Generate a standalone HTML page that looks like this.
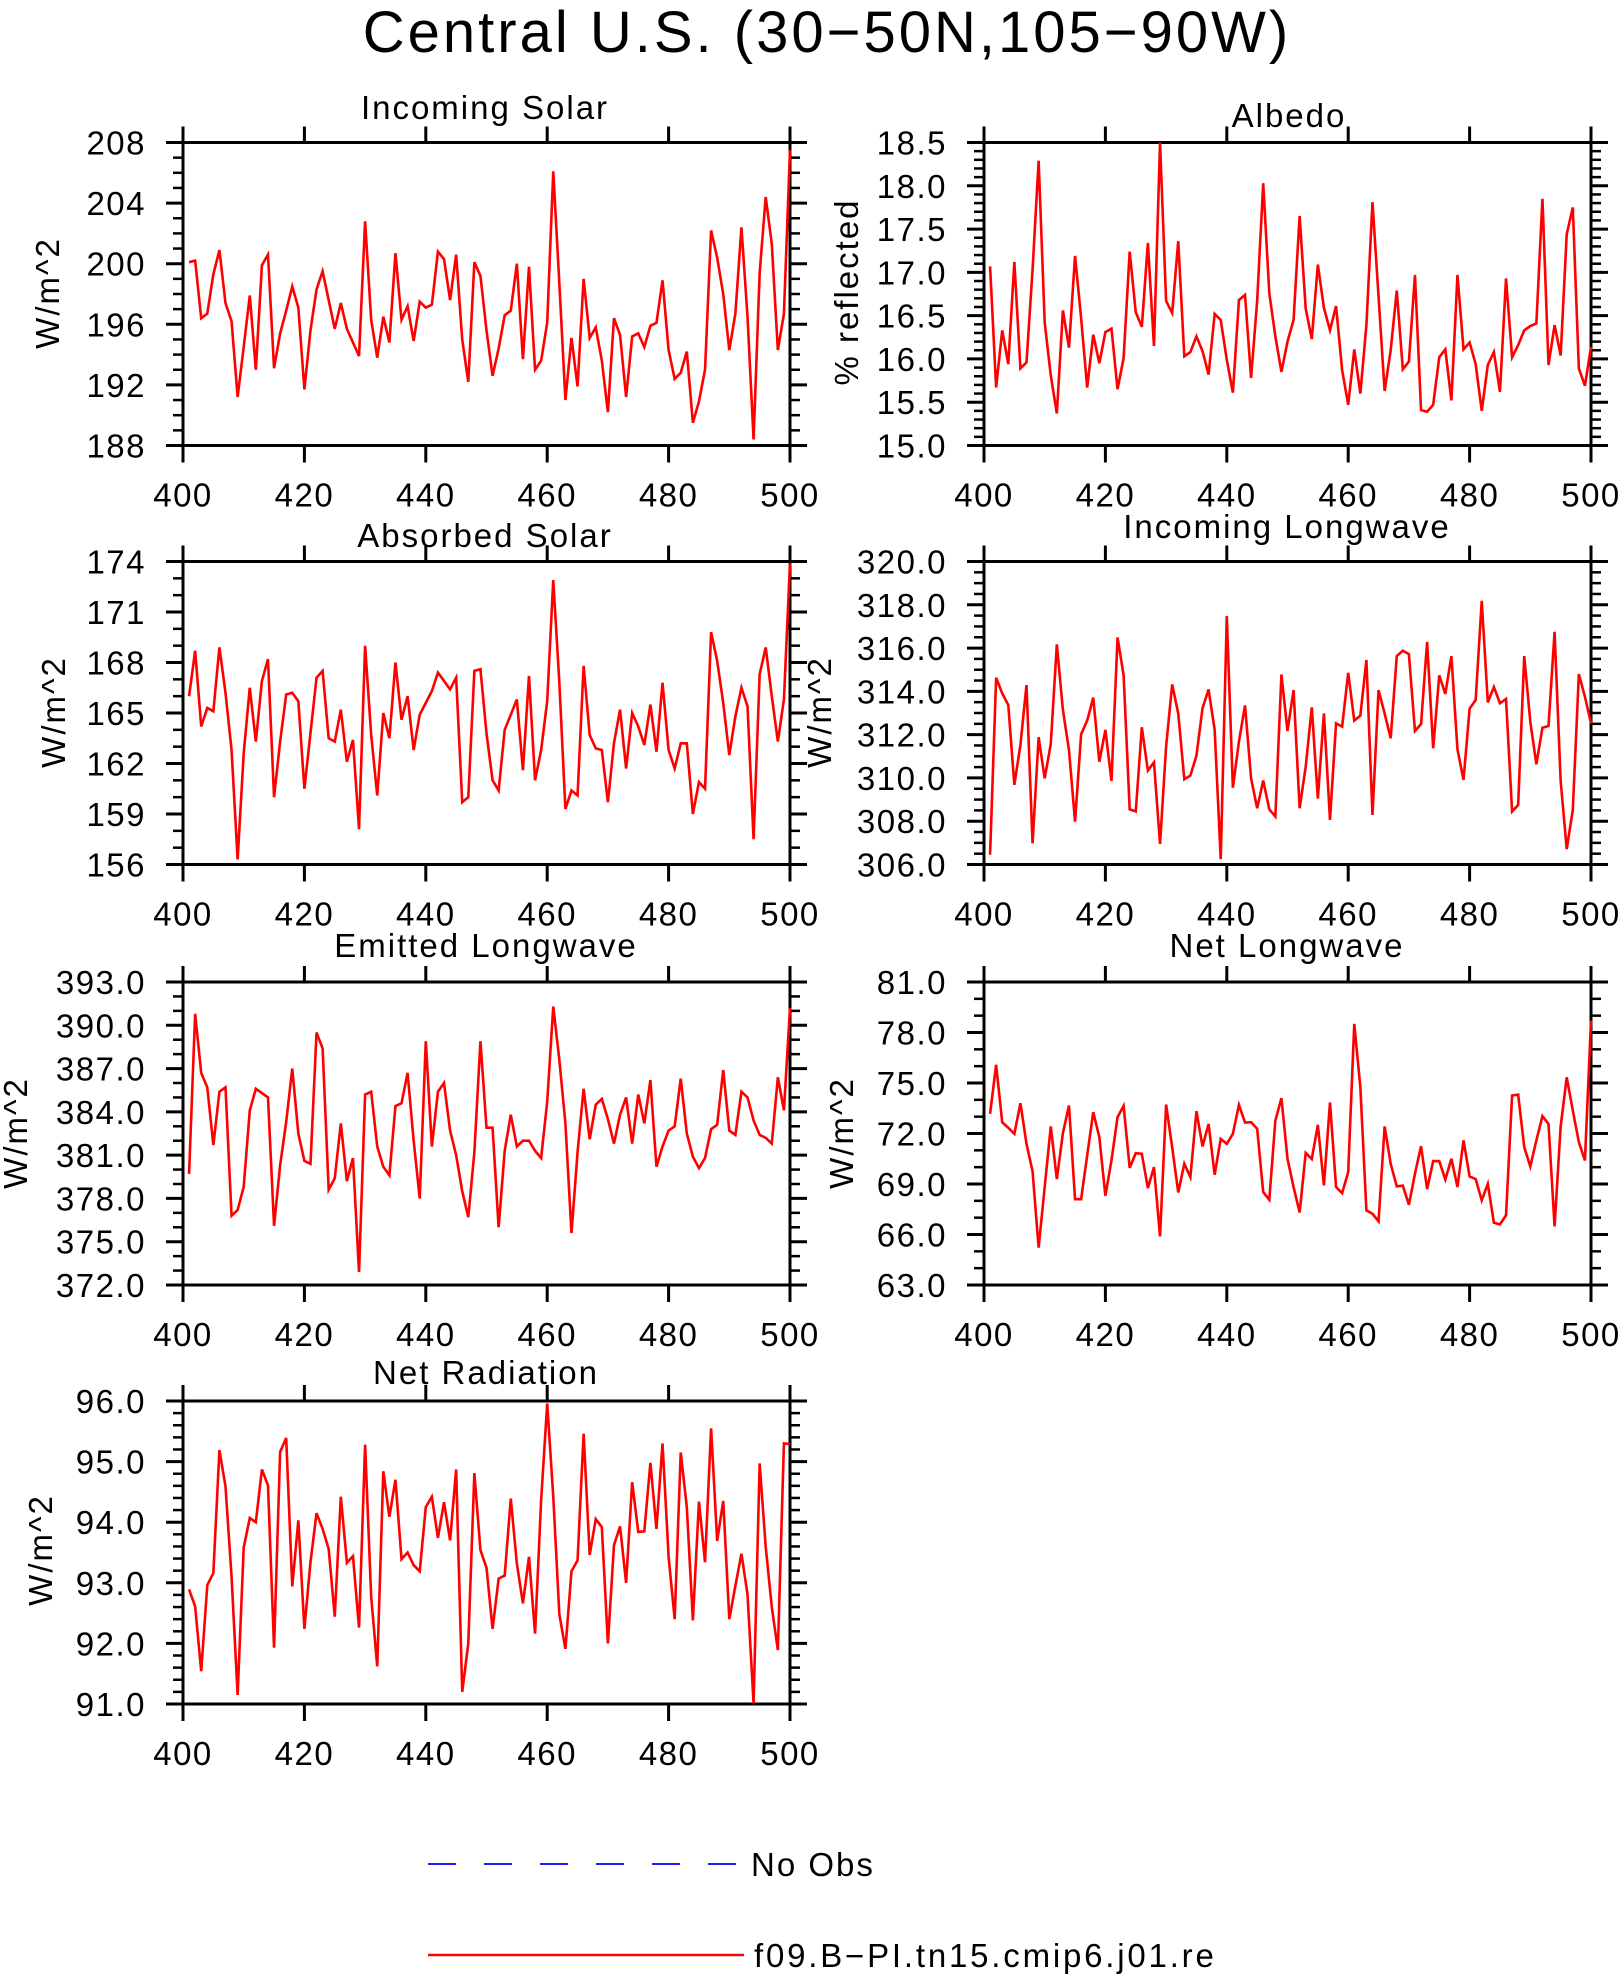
<!DOCTYPE html>
<html><head><meta charset="utf-8"><title>Central U.S.</title>
<style>
html,body{margin:0;padding:0;background:#fff;}
svg{display:block;font-family:"Liberation Sans",sans-serif;}
text{fill:#000;}
</style></head>
<body>
<svg id="chart" width="1621" height="1974" viewBox="0 0 1621 1974" xmlns="http://www.w3.org/2000/svg">
<rect x="0" y="0" width="1621" height="1974" fill="#fff"/>
<text x="827" y="52" text-anchor="middle" font-size="58" letter-spacing="3">Central U.S. (30−50N,105−90W)</text>
<g>
<line x1="428" y1="1864" x2="746" y2="1864" stroke="#2020ff" stroke-width="2" stroke-dasharray="28,28"/>
<text x="751" y="1876" font-size="33" letter-spacing="2">No Obs</text>
<line x1="428" y1="1955" x2="744" y2="1955" stroke="#ff0000" stroke-width="2.5"/>
<text x="754" y="1967" font-size="33" letter-spacing="2.8">f09.B−PI.tn15.cmip6.j01.re</text>
</g>
</svg>
<script>
const years = Array.from({length: 100}, (_, i) => 401 + i);
const xTicks = [400, 420, 440, 460, 480, 500];

const incomingSolar = [200.1,200.2,196.4,196.7,199.3,200.9,197.4,196.2,191.2,194.5,197.9,193.0,199.9,200.6,193.1,195.4,196.9,198.5,197.1,191.7,195.6,198.3,199.5,197.6,195.7,197.4,195.7,194.8,193.9,202.8,196.3,193.8,196.5,194.8,200.7,196.3,197.2,194.9,197.5,197.1,197.3,200.8,200.3,197.6,200.6,195.0,192.2,200.1,199.2,195.6,192.6,194.4,196.6,196.9,200.0,193.7,199.8,193.0,193.6,196.1,206.1,198.7,191.0,195.1,191.9,199.0,195.1,195.8,193.6,190.2,196.4,195.3,191.2,195.2,195.4,194.5,195.9,196.1,198.9,194.3,192.4,192.8,194.2,189.5,190.9,193.0,202.2,200.4,198.0,194.3,196.7,202.4,196.5,188.4,199.4,204.4,201.3,194.3,196.7,207.5];
const incomingSolarTicks = [188, 192, 196, 200, 204, 208];

const albedo = [17.07,15.67,16.33,15.94,17.12,15.89,15.96,17.03,18.29,16.42,15.81,15.37,16.56,16.13,17.19,16.47,15.67,16.28,15.95,16.31,16.35,15.65,16.01,17.24,16.54,16.37,17.34,16.15,18.5,16.67,16.53,17.36,16.03,16.08,16.26,16.09,15.82,16.52,16.45,15.99,15.61,16.68,16.74,15.78,16.67,18.03,16.76,16.26,15.85,16.20,16.45,17.65,16.58,16.23,17.09,16.59,16.33,16.61,15.87,15.47,16.11,15.60,16.39,17.81,16.72,15.63,16.10,16.79,15.88,15.97,16.97,15.41,15.39,15.47,16.02,16.11,15.52,16.97,16.11,16.19,15.94,15.40,15.93,16.08,15.62,16.93,16.02,16.16,16.33,16.38,16.41,17.85,15.93,16.39,16.04,17.44,17.75,15.89,15.69,16.14];
const albedoTicks = [15.0, 15.5, 16.0, 16.5, 17.0, 17.5, 18.0, 18.5];

const absorbedSolar = [166.0,168.7,164.2,165.3,165.1,168.9,166.2,162.8,156.3,162.6,166.5,163.3,166.9,168.2,160.0,163.3,166.1,166.2,165.7,160.5,163.8,167.1,167.5,163.5,163.3,165.2,162.1,163.4,158.1,169.0,163.7,160.1,165.0,163.5,168.0,164.6,166.0,162.8,164.9,165.6,166.3,167.4,166.9,166.4,167.1,159.7,160.0,167.5,167.6,163.8,161.0,160.4,164.0,164.9,165.8,161.6,167.2,161.0,162.8,165.7,172.9,166.8,159.3,160.4,160.1,167.8,163.7,162.9,162.8,159.7,163.2,165.2,161.7,165.0,164.2,163.1,165.5,162.7,166.8,162.8,161.7,163.2,163.2,159.0,160.9,160.5,169.8,168.1,165.6,162.5,164.8,166.5,165.4,157.5,167.3,168.9,166.0,163.3,165.8,173.9];
const absorbedSolarTicks = [156, 159, 162, 165, 168, 171, 174];

const incomingLW = [306.45,314.63,313.91,313.37,309.68,311.52,314.29,306.98,311.88,309.98,311.57,316.17,313.14,311.29,307.98,312.02,312.65,313.71,310.75,312.22,309.86,316.49,314.75,308.55,308.45,312.34,310.34,310.72,306.95,311.45,314.32,312.98,309.94,310.11,311.03,313.22,314.09,312.22,306.25,317.48,309.55,311.68,313.35,309.98,308.60,309.88,308.55,308.22,314.78,312.17,314.06,308.60,310.52,313.26,309.05,312.98,308.06,312.52,312.37,314.86,312.65,312.88,315.45,308.29,314.06,312.98,311.83,315.63,315.88,315.72,312.17,312.49,316.28,311.37,314.74,313.88,315.63,311.32,309.91,313.20,313.60,318.18,313.49,314.20,313.45,313.65,308.45,308.75,315.63,312.60,310.63,312.32,312.40,316.75,309.86,306.71,308.52,314.80,313.75,312.52];
const incomingLWTicks = [306.0, 308.0, 310.0, 312.0, 314.0, 316.0, 318.0, 320.0];

const emittedLW = [379.7,390.8,386.7,385.7,381.7,385.4,385.7,376.8,377.2,378.8,384.1,385.6,385.3,385.0,376.1,380.3,383.3,387.0,382.5,380.6,380.4,389.5,388.4,378.6,379.4,383.2,379.2,380.8,372.9,385.2,385.4,381.6,380.2,379.6,384.4,384.6,386.7,382.0,378.0,388.9,381.6,385.4,386.0,382.7,381.0,378.5,376.7,381.2,388.9,382.9,382.9,376.0,381.3,383.8,381.6,382.0,382.0,381.3,380.8,384.7,391.3,387.6,383.2,375.6,381.2,385.6,382.1,384.5,384.9,383.5,381.8,383.8,385.0,381.8,385.2,383.2,386.2,380.2,381.6,382.7,383.0,386.3,382.5,380.9,380.1,380.8,382.8,383.1,386.9,382.7,382.4,385.4,385.0,383.4,382.4,382.2,381.8,386.4,384.1,391.2];
const emittedLWTicks = [372.0, 375.0, 378.0, 381.0, 384.0, 387.0, 390.0, 393.0];

const netLW = [73.17,76.08,72.67,72.34,71.98,73.80,71.39,69.75,65.22,68.82,72.42,69.29,72.02,73.66,68.10,68.10,70.70,73.27,71.78,68.30,70.40,72.97,73.64,69.96,70.83,70.79,68.76,70.00,65.89,73.72,71.19,68.50,70.20,69.41,73.33,71.23,72.57,69.55,71.68,71.39,71.98,73.70,72.65,72.67,72.28,68.52,68.06,72.77,74.10,70.50,68.82,67.31,70.85,70.48,72.51,68.92,73.84,68.82,68.46,69.71,78.51,74.75,67.43,67.23,66.78,72.42,70.20,68.86,68.90,67.77,69.61,71.25,68.70,70.36,70.36,69.27,70.50,68.82,71.59,69.45,69.29,68.03,69.01,66.70,66.60,67.14,74.26,74.31,71.19,70.04,71.59,73.03,72.57,66.48,72.42,75.34,73.37,71.49,70.40,78.71];
const netLWTicks = [63.0, 66.0, 69.0, 72.0, 75.0, 78.0, 81.0];

const netRad = [92.89,92.61,91.54,92.96,93.16,95.19,94.59,93.10,91.15,93.58,94.07,94.00,94.87,94.61,91.93,95.16,95.39,92.94,94.03,92.24,93.34,94.15,93.89,93.56,92.44,94.42,93.33,93.44,92.26,95.28,92.77,91.62,94.84,94.09,94.70,93.39,93.50,93.29,93.19,94.25,94.42,93.74,94.33,93.70,94.87,91.20,92.00,94.81,93.54,93.25,92.24,93.07,93.12,94.39,93.32,92.66,93.43,92.16,94.36,95.96,94.42,92.48,91.91,93.19,93.37,95.46,93.46,94.05,93.92,92.00,93.62,93.93,93.00,94.66,93.84,93.85,94.98,93.89,95.30,93.43,92.40,95.15,94.25,92.38,94.34,93.34,95.55,93.69,94.35,92.40,92.95,93.48,92.81,91.01,94.97,93.59,92.60,91.89,95.30,95.29];
const netRadTicks = [91.0, 92.0, 93.0, 94.0, 95.0, 96.0];

const NS = 'http://www.w3.org/2000/svg';
const svg = document.getElementById('chart');

function mk(tag, attrs, parent) {
  const e = document.createElementNS(NS, tag);
  for (const k in attrs) e.setAttribute(k, attrs[k]);
  parent.appendChild(e);
  return e;
}

const panelDefs = [
  {key:'incoming-solar', title:'Incoming Solar', series:incomingSolar, ticks:incomingSolarTicks, dec:0, minor:4, x0:183, x1:790, y0:142.5, y1:445.5, tx:485, ty:119, ytitle:'W/m^2', ytx:47, yty:293},
  {key:'albedo', title:'Albedo', series:albedo, ticks:albedoTicks, dec:1, minor:5, x0:984, x1:1591, y0:142.5, y1:445.5, tx:1289, ty:127, ytitle:'% reflected', ytx:846, yty:292},
  {key:'absorbed-solar', title:'Absorbed Solar', series:absorbedSolar, ticks:absorbedSolarTicks, dec:0, minor:3, x0:183, x1:790, y0:561.5, y1:864.5, tx:485, ty:547, ytitle:'W/m^2', ytx:53, yty:712},
  {key:'incoming-longwave', title:'Incoming Longwave', series:incomingLW, ticks:incomingLWTicks, dec:1, minor:4, x0:984, x1:1591, y0:561.5, y1:864.5, tx:1287, ty:538, ytitle:'W/m^2', ytx:819, yty:712},
  {key:'emitted-longwave', title:'Emitted Longwave', series:emittedLW, ticks:emittedLWTicks, dec:1, minor:3, x0:183, x1:790, y0:982, y1:1285, tx:486, ty:957, ytitle:'W/m^2', ytx:15, yty:1133},
  {key:'net-longwave', title:'Net Longwave', series:netLW, ticks:netLWTicks, dec:1, minor:3, x0:984, x1:1591, y0:982, y1:1285, tx:1287, ty:957, ytitle:'W/m^2', ytx:841, yty:1133},
  {key:'net-radiation', title:'Net Radiation', series:netRad, ticks:netRadTicks, dec:1, minor:5, x0:183, x1:790, y0:1401, y1:1704, tx:486, ty:1384, ytitle:'W/m^2', ytx:40, yty:1550}
];

function drawPanel(p) {
  const g = mk('g', {}, svg);
  
  
  const ymin = p.ticks[0], ymax = p.ticks[p.ticks.length - 1];
  const xs = v => p.x0 + (v - xTicks[0]) / (xTicks[xTicks.length - 1] - xTicks[0]) * (p.x1 - p.x0);
  const ys = v => p.y1 - (v - ymin) / (ymax - ymin) * (p.y1 - p.y0);

  const step = p.ticks[1] - p.ticks[0];
  for (let i = 0; i < p.ticks.length; i++) {
    const v = p.ticks[i];
    const y = ys(v);
    const tl = mk('line', {x1:p.x0-17, y1:y, x2:p.x0, y2:y, stroke:'#000', 'stroke-width':3}, g);
    
    
    const tr = mk('line', {x1:p.x1, y1:y, x2:p.x1+17, y2:y, stroke:'#000', 'stroke-width':3}, g);
    
    
    const lab = mk('text', {x:p.x0-37, y:y+12, 'text-anchor':'end', 'font-size':33, 'letter-spacing':1.5}, g);
    lab.textContent = v.toFixed(p.dec);
    
    
    if (i < p.ticks.length - 1) {
      for (let m = 1; m < p.minor; m++) {
        const ym = ys(v + step * m / p.minor);
        const ml = mk('line', {x1:p.x0-10, y1:ym, x2:p.x0, y2:ym, stroke:'#000', 'stroke-width':2.5}, g);
        
        
        const mr = mk('line', {x1:p.x1, y1:ym, x2:p.x1+10, y2:ym, stroke:'#000', 'stroke-width':2.5}, g);
        
        
      }
    }
  }
  for (const v of xTicks) {
    const x = xs(v);
    const tb = mk('line', {x1:x, y1:p.y1, x2:x, y2:p.y1+17, stroke:'#000', 'stroke-width':3}, g);
    
    
    const tt = mk('line', {x1:x, y1:p.y0-16, x2:x, y2:p.y0, stroke:'#000', 'stroke-width':3}, g);
    
    
    const lab = mk('text', {x:x, y:p.y1+61, 'text-anchor':'middle', 'font-size':33, 'letter-spacing':1.5}, g);
    lab.textContent = String(v);
    
    
  }
  const box = mk('rect', {x:p.x0, y:p.y0, width:p.x1-p.x0, height:p.y1-p.y0, fill:'none', stroke:'#000', 'stroke-width':3}, g);
  
  
  let d = '';
  for (let i = 0; i < p.series.length; i++) {
    d += (i ? 'L' : 'M') + xs(years[i]).toFixed(2) + ',' + ys(p.series[i]).toFixed(2);
  }
  const path = mk('path', {d:d, fill:'none', stroke:'#ff0000', 'stroke-width':2.6, 'stroke-linejoin':'miter'}, g);
  
  
  const t = mk('text', {x:p.tx, y:p.ty, 'text-anchor':'middle', 'font-size':33, 'letter-spacing':2}, g);
  t.textContent = p.title;
  
  
  const yt = mk('text', {x:p.ytx, y:p.yty, 'text-anchor':'middle', 'font-size':33, 'letter-spacing':2, transform:'rotate(-90 ' + p.ytx + ' ' + p.yty + ') translate(0 12)'}, g);
  yt.textContent = p.ytitle;
  
  
}

panelDefs.forEach(drawPanel);
</script>
</body></html>
